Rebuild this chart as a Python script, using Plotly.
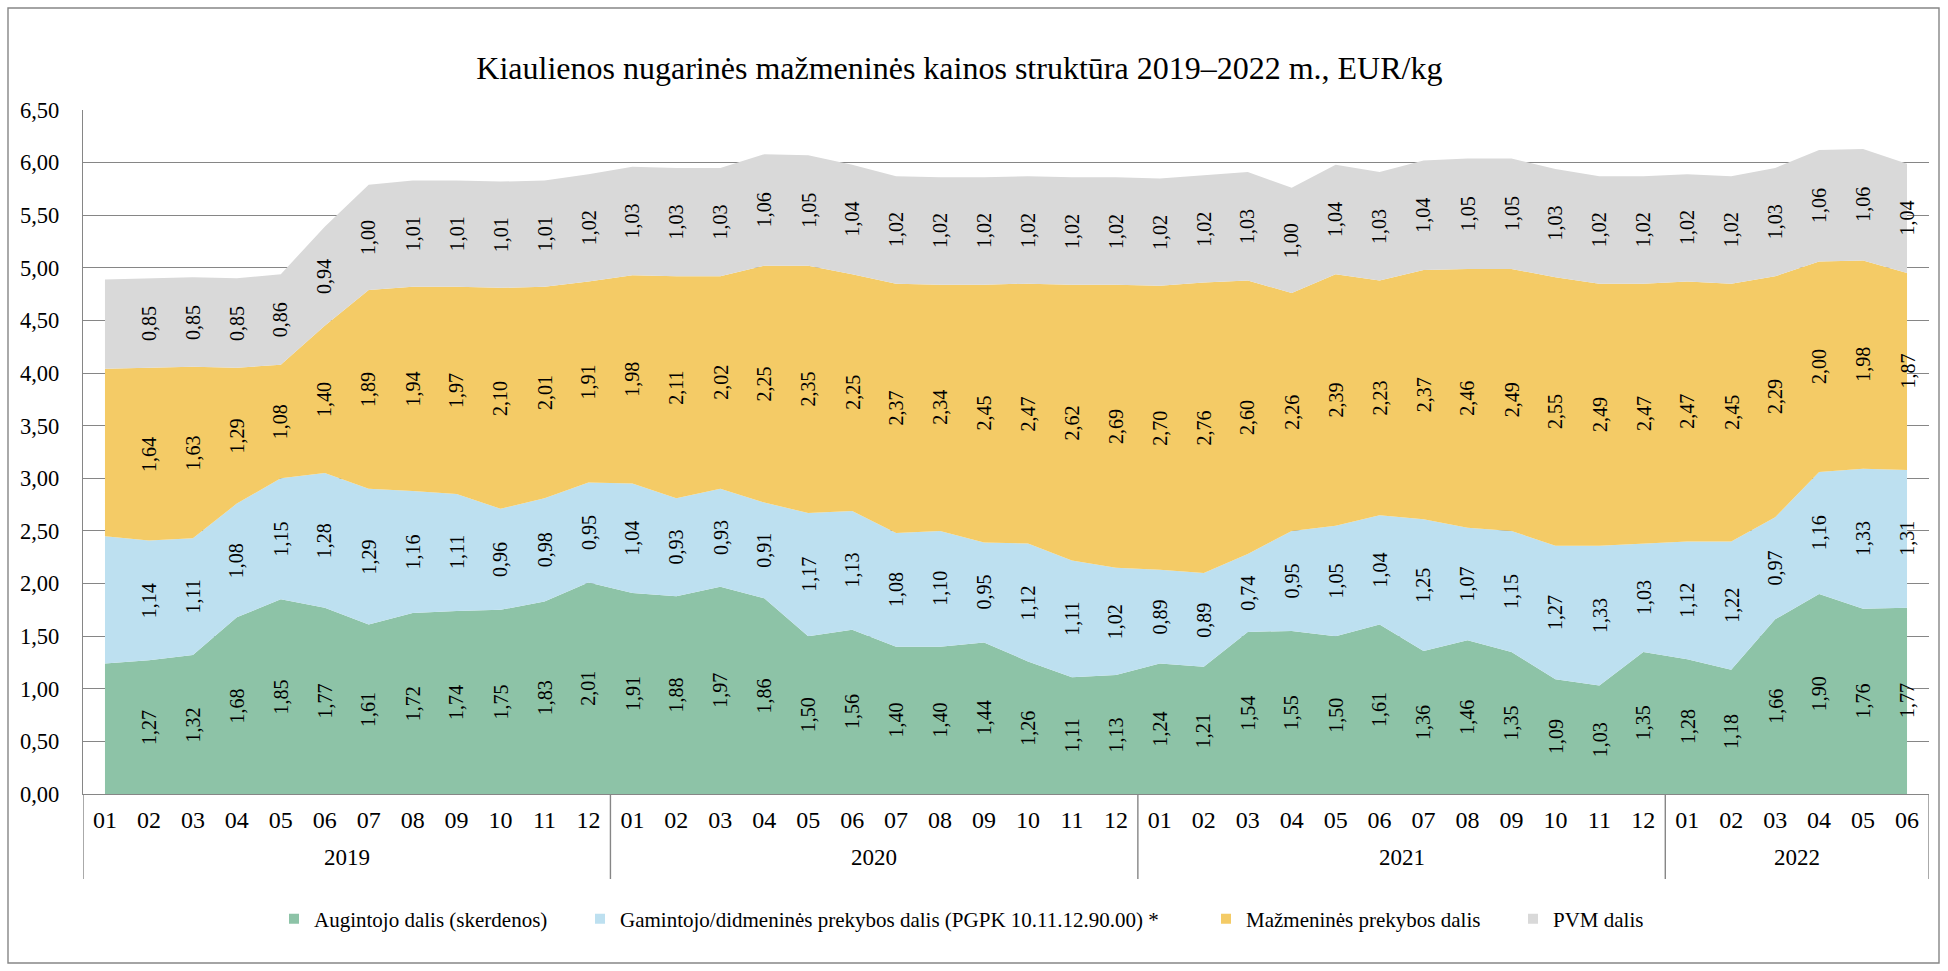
import plotly.graph_objects as go

# months 2019-01 .. 2022-06
years = ["2019", "2020", "2021", "2022"]
months_per_year = [12, 12, 12, 6]
month_labels = ["01", "02", "03", "04", "05", "06", "07", "08", "09", "10", "11", "12"]

augintojo = [1.24, 1.27, 1.32, 1.68, 1.85, 1.77, 1.61, 1.72, 1.74, 1.75, 1.83, 2.01,
             1.91, 1.88, 1.97, 1.86, 1.50, 1.56, 1.40, 1.40, 1.44, 1.26, 1.11, 1.13,
             1.24, 1.21, 1.54, 1.55, 1.50, 1.61, 1.36, 1.46, 1.35, 1.09, 1.03, 1.35,
             1.28, 1.18, 1.66, 1.90, 1.76, 1.77]
gamintojo = [1.21, 1.14, 1.11, 1.08, 1.15, 1.28, 1.29, 1.16, 1.11, 0.96, 0.98, 0.95,
             1.04, 0.93, 0.93, 0.91, 1.17, 1.13, 1.08, 1.10, 0.95, 1.12, 1.11, 1.02,
             0.89, 0.89, 0.74, 0.95, 1.05, 1.04, 1.25, 1.07, 1.15, 1.27, 1.33, 1.03,
             1.12, 1.22, 0.97, 1.16, 1.33, 1.31]
mazmenine = [1.59, 1.64, 1.63, 1.29, 1.08, 1.40, 1.89, 1.94, 1.97, 2.10, 2.01, 1.91,
             1.98, 2.11, 2.02, 2.25, 2.35, 2.25, 2.37, 2.34, 2.45, 2.47, 2.62, 2.69,
             2.70, 2.76, 2.60, 2.26, 2.39, 2.23, 2.37, 2.46, 2.49, 2.55, 2.49, 2.47,
             2.47, 2.45, 2.29, 2.00, 1.98, 1.87]
pvm = [0.85, 0.85, 0.85, 0.85, 0.86, 0.94, 1.00, 1.01, 1.01, 1.01, 1.01, 1.02,
       1.03, 1.03, 1.03, 1.06, 1.05, 1.04, 1.02, 1.02, 1.02, 1.02, 1.02, 1.02,
       1.02, 1.02, 1.03, 1.00, 1.04, 1.03, 1.04, 1.05, 1.05, 1.03, 1.02, 1.02,
       1.02, 1.02, 1.03, 1.06, 1.06, 1.04]

series_names = ["Augintojo dalis (skerdenos)",
                "Gamintojo/didmeninės prekybos dalis (PGPK 10.11.12.90.00) *",
                "Mažmeninės prekybos dalis",
                "PVM dalis"]
series_values = [augintojo, gamintojo, mazmenine, pvm]
colors = ["#8dc3a7", "#bde0f0", "#f4cb66", "#d9d9d9"]

# category keys and their month text
cats, ticktext = [], []
for y, n in zip(years, months_per_year):
    for m in month_labels[:n]:
        cats.append(y + "-" + m)
        ticktext.append(m)

W, H = 1948, 971
L, R, T, B = 83, 1929, 110, 794   # plot area in pixels
GRAY = "#868686"
FONT = "Liberation Serif, Times New Roman, serif"
legend_left_px = [274, 580, 1206, 1513]   # one legend box per entry


def px_x(px):
    return (px - L) / (R - L)


def px_y(py):
    return (B - py) / (B - T)


def fmt(v):
    return f"{v:.2f}".replace(".", ",")


fig = go.Figure()

legend_ids = ["legend", "legend2", "legend3", "legend4"]
for name, vals, col, lg in zip(series_names, series_values, colors, legend_ids):
    fig.add_trace(go.Scatter(
        x=cats, y=vals, name=name, mode="lines", stackgroup="one",
        line=dict(width=0, color=col), fillcolor=col, showlegend=False,
        hoverinfo="skip",
    ))
    # legend entry with a small square
    fig.add_trace(go.Scatter(
        x=[None], y=[None], name=name, mode="markers", legend=lg,
        marker=dict(symbol="square", size=10, color=col),
    ))

# data labels (vertical, centred in each band); first month has none
annotations = []
base = [0.0] * len(cats)
for vals in series_values:
    for i, v in enumerate(vals):
        if i > 0:
            annotations.append(dict(
                x=cats[i], y=base[i] + v / 2, xref="x", yref="y",
                text=fmt(v), textangle=-90, showarrow=False,
                font=dict(size=20, color="black", family=FONT),
            ))
        base[i] += v

# year labels under the months
start = 0
shapes = []
for y, n in zip(years, months_per_year):
    annotations.append(dict(
        x=start + (n - 1) / 2, y=px_y(872), xref="x", yref="paper",
        text=y, showarrow=False, font=dict(size=23, color="black", family=FONT),
    ))
    shapes.append(dict(type="line", xref="x", yref="paper",
                       x0=start - 0.5, x1=start - 0.5, y0=0, y1=px_y(879),
                       line=dict(color=GRAY, width=1.4)))
    start += n
shapes.append(dict(type="line", xref="x", yref="paper",
                   x0=start - 0.5, x1=start - 0.5, y0=0, y1=px_y(879),
                   line=dict(color=GRAY, width=1.4)))

# chart border
shapes.append(dict(type="rect", xref="paper", yref="paper",
                   x0=px_x(8), x1=px_x(1939), y0=px_y(963), y1=px_y(8),
                   line=dict(color=GRAY, width=1.4), fillcolor="rgba(0,0,0,0)"))

legend_style = dict(orientation="h", xanchor="left", y=px_y(919), yanchor="middle",
                    font=dict(size=21, family=FONT), itemwidth=30,
                    bgcolor="rgba(0,0,0,0)")
legends = {lg: dict(legend_style, x=px_x(lx)) for lg, lx in zip(legend_ids, legend_left_px)}

fig.update_layout(
    width=W, height=H,
    margin=dict(l=L, r=W - R, t=T, b=H - B),
    paper_bgcolor="white", plot_bgcolor="white",
    separators=",.",
    font=dict(family=FONT, color="black", size=22),
    title=dict(text="Kiaulienos nugarinės mažmeninės kainos struktūra 2019–2022 m., EUR/kg",
               x=0.4925, xref="container", y=1 - 68 / H, yref="container",
               xanchor="center", yanchor="middle",
               font=dict(size=32, family=FONT, color="black")),
    annotations=annotations,
    shapes=shapes,
    **legends,
)

fig.update_xaxes(
    type="category", range=[-0.5, len(cats) - 0.5],
    tickmode="array", tickvals=cats, ticktext=ticktext,
    showgrid=False, showline=True, linecolor=GRAY, linewidth=1.4,
    ticks="", tickfont=dict(size=24), ticklabelstandoff=4,
)
fig.update_yaxes(
    range=[0, 6.5], dtick=0.5, tick0=0, tickformat=".2f",
    showgrid=True, gridcolor=GRAY, gridwidth=1.4, zeroline=False,
    showline=True, linecolor=GRAY, linewidth=1.4,
    ticks="", tickfont=dict(size=22.5), ticklabelstandoff=18,
)

# drop the default page margin so the figure sits at the window origin
fig.write_html("out.html", config={"displayModeBar": False},
               post_script="document.body.style.margin='0';")
